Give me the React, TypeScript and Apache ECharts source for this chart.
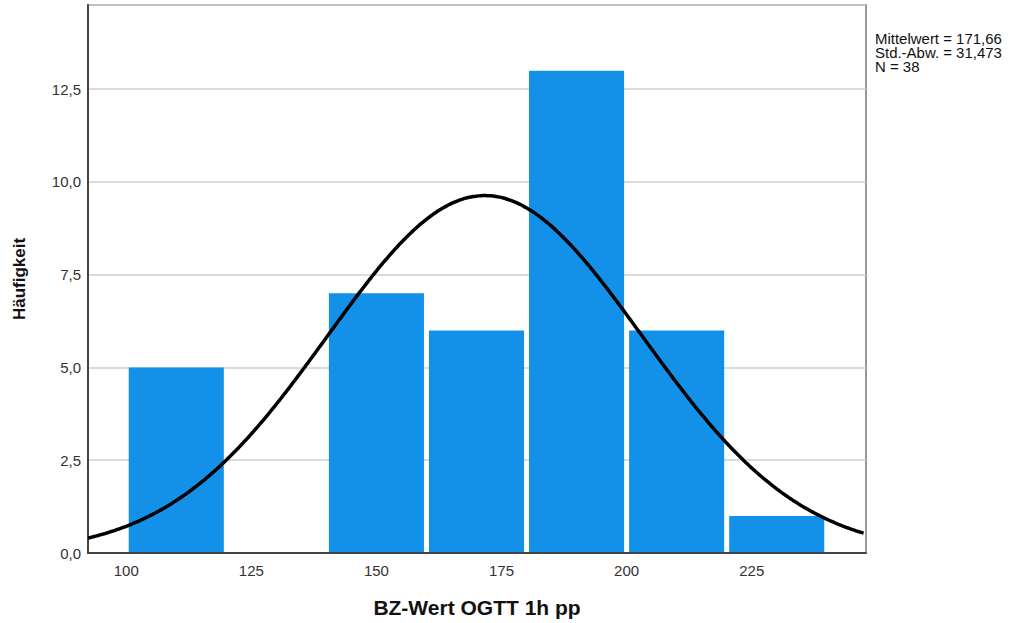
import React, { useEffect, useRef } from "react";
import * as echarts from "echarts";

const binStarts = [100, 120, 140, 160, 180, 200, 220];
const binWidth = 20;
const counts = [5, 0, 7, 6, 13, 6, 1];
const xTicks = [100, 125, 150, 175, 200, 225];
const mean = 171.66;
const sd = 31.473;
const n = 38;
const statsLines = ["Mittelwert = 171,66", "Std.-Abw. = 31,473", "N = 38"];

const xMin = 92.36;
const xMax = 247.84;
const yMax = 14.77;
const yInterval = 2.5;

export default function App() {
  const ref = useRef<HTMLDivElement>(null);
  useEffect(() => {
    const chart = echarts.init(ref.current!, null, { renderer: "svg" });
    const bars = binStarts.map((s, i) => [s, s + binWidth, counts[i]]);
    const curve: number[][] = [];
    for (let x = xMin; x <= xMax + 0.001; x += 0.5) {
      const y =
        (n * binWidth) / (sd * Math.sqrt(2 * Math.PI)) *
        Math.exp(-((x - mean) * (x - mean)) / (2 * sd * sd));
      curve.push([x, y]);
    }
    const font = "'Liberation Sans', Arial, sans-serif";
    chart.setOption({
      animation: false,
      grid: {
        left: 88,
        right: 144,
        top: 5,
        bottom: 69,
        show: true,
        borderColor: "#777",
        borderWidth: 1.5,
      },
      xAxis: {
        type: "value",
        min: xMin,
        max: xMax,
        name: "BZ-Wert OGTT 1h pp",
        nameLocation: "middle",
        nameGap: 44,
        nameTextStyle: { fontFamily: font, fontSize: 21, fontWeight: "bold", color: "#111" },
        axisLine: { show: true, lineStyle: { color: "#444", width: 2 } },
        axisTick: { show: false },
        splitLine: { show: false },
        axisLabel: {
          customValues: xTicks,
          fontFamily: font,
          fontSize: 15,
          color: "#333",
          margin: 10,
        },
      },
      yAxis: {
        type: "value",
        min: 0,
        max: yMax,
        interval: yInterval,
        name: "Häufigkeit",
        nameLocation: "middle",
        nameGap: 60,
        nameTextStyle: { fontFamily: font, fontSize: 17, fontWeight: "bold", color: "#111" },
        axisLine: { show: true, lineStyle: { color: "#444", width: 2 } },
        axisTick: { show: false },
        splitLine: { show: true, lineStyle: { color: "#cfcfcf", width: 1.5 } },
        axisLabel: {
          showMaxLabel: false,
          fontFamily: font,
          fontSize: 15,
          color: "#333",
          margin: 7,
          padding: [6, 0, 0, 0],
          formatter: (v: number) => v.toFixed(1).replace(".", ","),
        },
      },
      graphic: [
        {
          type: "text",
          x: 875,
          y: 32,
          scaleX: 1.07,
          style: {
            text: statsLines.join("\n"),
            fontFamily: font,
            fontSize: 14,
            lineHeight: 14,
            fill: "#111",
          },
        },
      ],
      series: [
        {
          type: "custom",
          data: bars,
          renderItem: (params: any, api: any) => {
            const x0 = api.value(0);
            const x1 = api.value(1);
            const c = api.value(2);
            if (!c) return null;
            const p0 = api.coord([x0, c]);
            const p1 = api.coord([x1, 0]);
            return {
              type: "rect",
              shape: {
                x: p0[0] + 2.5,
                y: p0[1],
                width: p1[0] - p0[0] - 5,
                height: p1[1] - p0[1] - 1,
              },
              style: { fill: "#1390E8" },
            };
          },
          encode: { x: [0, 1], y: 2 },
          z: 2,
        },
        {
          type: "line",
          data: curve,
          showSymbol: false,
          symbol: "none",
          smooth: true,
          lineStyle: { color: "#000", width: 3.5 },
          z: 3,
        },
      ],
    });
    return () => chart.dispose();
  }, []);
  return (
    <div
      ref={ref}
      style={{ position: "absolute", left: 0, top: 0, width: 1010, height: 623 }}
    />
  );
}
